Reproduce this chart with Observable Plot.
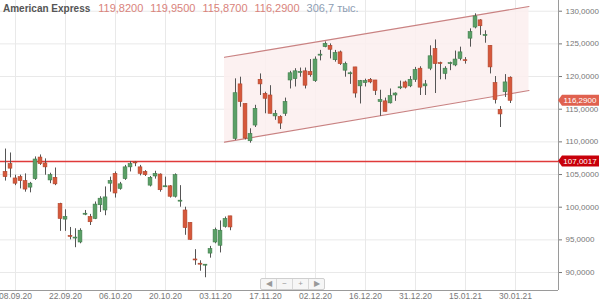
<!DOCTYPE html>
<html><head><meta charset="utf-8">
<script src="https://cdn.jsdelivr.net/npm/d3@7"></script>
<script src="https://cdn.jsdelivr.net/npm/@observablehq/plot@0.6"></script>
<style>
body{margin:0;background:#fff;font-family:"Liberation Sans",Arial,sans-serif;}
#wrap{position:relative;width:600px;height:301px;overflow:hidden;}
#hdr{position:absolute;left:3px;top:2px;font-size:11px;white-space:nowrap;line-height:13px;}
#hdr .name{font-weight:bold;color:#555;margin-right:8px;font-size:10px;}
#hdr .v{color:#d9837b;margin-right:7px;}
#hdr .vol{color:#8d9db3;}
#nav{position:absolute;left:260px;top:278px;display:flex;border:1px solid #cfcfcf;background:#f6f6f6;border-radius:2px;}
#nav span{display:block;width:15px;height:10px;line-height:10px;text-align:center;font-size:8px;color:#999;border-right:1px solid #d8d8d8;}
#nav span:last-child{border-right:none;}
</style></head><body>
<div id="wrap"><div id="chart"></div>
<div id="hdr"></div>
<div id="nav"><span>&#9664;</span><span>&minus;</span><span>+</span><span>&#9654;</span></div>
</div>
<script>
// ---- data ----
const title = "American Express";
const headerValues = ["119,8200", "119,9500", "115,8700", "116,2900"];
const volumeText = "306,7 тыс.";
const dateLabels = ["08.09.20","22.09.20","06.10.20","20.10.20","03.11.20","17.11.20","02.12.20","16.12.20","31.12.20","15.01.21","30.01.21"];
const dateTickIdx = [0,10,20,30,40,50,60,70,80,90,100];
const firstIdx = -2;
const open = [105.4,106.6,104.4,104.6,104.0,103.0,104.3,107.6,106.7,104.1,104.5,100.5,98.1,95.6,95.2,94.6,98.85,98.5,98.2,100.3,99.5,103.6,105.1,102.8,104.3,106.1,106.85,106.1,105.4,103.3,104.7,105.0,103.05,103.2,101.6,100.85,99.5,97.6,92.0,91.35,91.05,92.9,94.6,94.1,97.0,98.6,
  110.46,118.8,115.8,110.1,112.5,119.5,117.35,117.1,113.9,113.8,114.3,119.4,119.6,120.55,120.8,120.7,119.3,123.2,124.5,124.7,122.5,123.7,120.9,120.35,121.4,118.5,119.0,119.5,119.4,116.1,116.2,115.9,117.1,118.2,119.1,118.5,119.5,121.2,118.5,121.2,124.2,122.05,120.4,121.9,121.7,122.7,122.5,125.8,127.5,128.6,126.2,124.7,119.0,114.9,117.6,119.82];
const high = [108.9,108.3,104.9,104.9,105.1,103.8,107.7,108.0,107.4,105.2,106.0,100.6,99.6,96.9,96.7,96.7,99.5,98.9,100.8,101.6,103.1,104.6,105.4,103.8,106.4,107.0,107.0,106.4,105.6,104.7,105.5,105.1,104.6,103.3,105.1,103.3,100.0,97.6,93.5,91.8,91.2,94.0,96.8,97.9,98.5,98.6,
  119.65,119.9,115.8,112.0,115.6,120.4,117.6,118.6,114.8,114.0,116.7,120.8,121.2,121.3,121.3,122.6,123.0,124.0,125.3,125.0,124.0,123.9,122.2,120.7,121.4,119.4,119.6,119.7,119.4,117.9,116.7,118.1,117.5,119.3,119.3,120.0,121.4,121.5,119.4,124.7,125.6,122.2,121.5,122.2,123.9,124.5,122.9,127.3,129.6,128.7,127.0,124.7,120.0,115.4,120.3,119.95];
const low = [104.0,104.5,103.3,102.8,102.3,102.2,104.1,106.4,104.9,103.6,103.3,96.3,96.3,95.0,93.8,94.4,98.7,97.2,98.1,99.2,98.7,102.3,101.4,102.6,104.1,105.4,106.2,104.8,104.7,103.1,104.3,102.3,103.0,101.4,101.4,100.0,95.7,94.9,91.1,90.2,89.2,92.2,94.4,93.0,96.8,96.4,
  110.2,115.3,110.3,109.8,112.2,117.1,114.3,114.3,113.3,111.9,113.9,118.1,118.4,119.9,118.1,119.9,119.1,122.4,124.4,122.7,122.2,121.7,119.9,118.8,116.7,115.8,118.4,118.9,117.1,113.9,114.6,115.8,116.2,118.0,118.1,118.3,119.1,117.1,117.1,120.9,117.4,119.5,119.5,120.9,121.5,122.4,121.9,124.5,127.3,126.3,125.1,120.4,115.8,112.2,116.8,115.87];
const close = [104.6,105.9,103.6,104.0,102.7,103.6,107.3,106.6,106.1,104.9,103.5,98.2,98.5,95.45,95.35,96.4,99.0,97.7,100.4,101.3,101.5,104.0,102.1,103.5,106.1,106.6,106.7,105.1,104.9,104.5,105.1,102.6,103.2,101.6,104.9,101.0,96.8,95.0,91.85,91.2,91.2,93.6,96.5,96.4,98.2,96.9,
  117.45,116.1,110.5,111.2,115.06,118.8,116.6,114.3,114.3,112.8,116.1,120.5,120.8,120.7,118.6,120.2,122.6,123.35,125.0,124.1,123.6,121.9,121.9,120.5,117.4,119.3,119.3,119.1,117.8,116.4,114.6,117.0,117.4,118.35,118.3,119.5,121.0,118.3,118.8,123.1,121.9,121.9,121.2,122.05,122.6,123.7,122.35,126.8,129.2,127.7,126.35,121.4,116.4,114.2,119.1,116.29];
const channelIdx = [41.8, 102.7];
const channelUpper = [122.95, 130.72];
const channelLower = [109.95, 117.86];
const levelValue = 107.0017;
const levelText = "107,0017";
const lastValue = 116.29;
const lastText = "116,2900";
const yTicks = [90, 95, 100, 105, 110, 115, 120, 125, 130];
const xDomain = [-3, 108.6];
const yDomain = [87.25, 131.64];

// ---- build ----
document.getElementById("hdr").innerHTML =
  `<span class="name">${title}</span>` + headerValues.map(v => `<span class="v">${v}</span>`).join("") + `<span class="vol">${volumeText}</span>`;

const candles = open.map((o, k) => ({i: firstIdx + k, open: o, high: high[k], low: low[k], close: close[k]}));
const channel = channelIdx.map((x, k) => ({i: x, upper: channelUpper[k], lower: channelLower[k]}));
const up = d => d.close >= d.open;
const fmt = v => v.toFixed(4).replace(".", ",");

const chart = Plot.plot({
  width: 600, height: 301,
  marginLeft: 0, marginRight: 42, marginTop: 0, marginBottom: 11,
  style: {color: "#777", fontSize: "8px", fontFamily: "'Liberation Sans', Arial, sans-serif", background: "transparent"},
  x: {type: "linear", domain: xDomain, label: null},
  y: {domain: yDomain, label: null},
  marks: [
    Plot.gridX(dateTickIdx, {stroke: "#e9e9e9", strokeOpacity: 1}),
    Plot.gridY(yTicks, {stroke: "#e9e9e9", strokeOpacity: 1}),
    Plot.areaY(channel, {x: "i", y1: "lower", y2: "upper", fill: "#fbeeee", fillOpacity: 0.85}),
    Plot.line(channel, {x: "i", y: "upper", stroke: "#c98282", strokeWidth: 1.2}),
    Plot.line(channel, {x: "i", y: "lower", stroke: "#c98282", strokeWidth: 1.2}),
    Plot.ruleY([levelValue], {stroke: "#e03a3a", strokeWidth: 1.4}),
    Plot.ruleX(candles, {x: "i", y1: "low", y2: "high", stroke: "#555", strokeWidth: 1}),
    Plot.rect(candles, {
      x1: d => d.i - 0.38, x2: d => d.i + 0.38, y1: "open", y2: "close",
      fill: d => up(d) ? "#5aa066" : "#d6583b",
      stroke: d => up(d) ? "#3f7c4b" : "#b0442b", strokeWidth: 0.6
    }),
    Plot.ruleX([xDomain[1]], {stroke: "#9a9a9a"}),
    Plot.ruleY([yDomain[0]], {stroke: "#9a9a9a"}),
    Plot.axisY({anchor: "right", ticks: yTicks, tickFormat: fmt, tickSize: 3, tickPadding: 4, label: null}),
    Plot.axisX({ticks: dateTickIdx, tickFormat: i => dateLabels[i / 10], tickSize: 0, tickPadding: 2.5, fontSize: 8.5, label: null})
  ]
});
document.getElementById("chart").appendChild(chart);

// price tags on the right, placed through the plot's y scale
let yScale;
try { const s = chart.scale("y"); yScale = s.apply ? (v => s.apply(v)) : null; } catch (e) { yScale = null; }
if (!yScale) { const s = d3.scaleLinear(yDomain, [290, 0]); yScale = v => s(v); }
const xRight = 600 - 42;
const svg = d3.select(chart);
[[lastValue, lastText, "#e0614f"], [levelValue, levelText, "#c8000a"]].forEach(([v, t, c]) => {
  const y = yScale(v);
  const g = svg.append("g");
  g.append("path")
    .attr("d", `M${xRight},${y} L${xRight + 4},${y - 5.5} L599,${y - 5.5} L599,${y + 5.5} L${xRight + 4},${y + 5.5} Z`)
    .attr("fill", c);
  g.append("text").attr("x", xRight + 22).attr("y", y).attr("dy", "0.35em")
    .attr("text-anchor", "middle").attr("fill", "#fff").attr("font-size", "8px").text(t);
});
</script>
</body></html>
